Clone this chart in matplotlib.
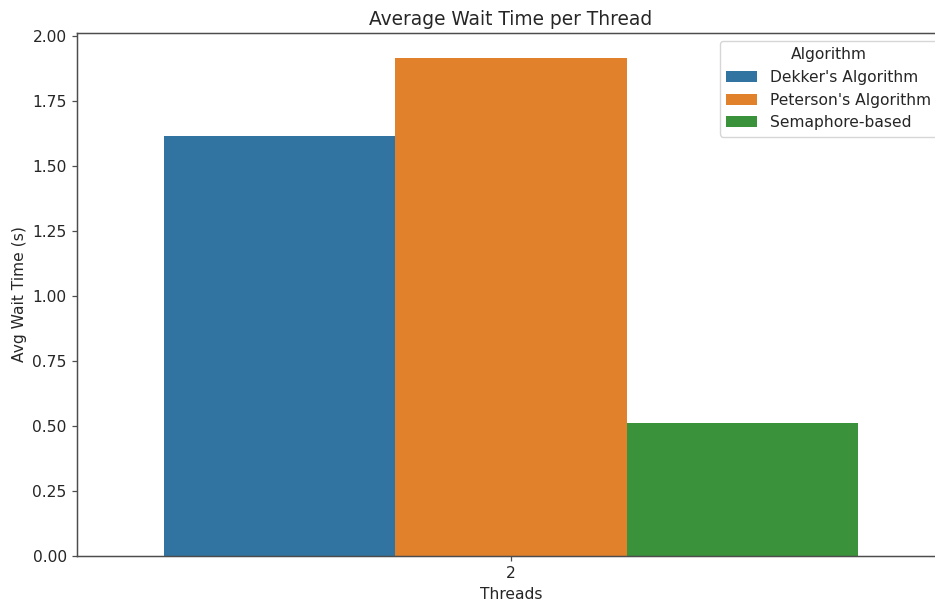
import pandas as pd
import seaborn as sns
import matplotlib
matplotlib.use("Agg")
import matplotlib.pyplot as plt

threads = [2, 2, 2]
algorithms = ["Dekker's Algorithm", "Peterson's Algorithm", "Semaphore-based"]
avg_wait = [1.615, 1.916, 0.512]

df = pd.DataFrame({"Threads": threads, "Algorithm": algorithms, "Avg Wait Time (s)": avg_wait})

s = 1.12  # original was rendered a bit larger and scaled down
plt.rcParams.update({
    "font.size": 10 * s,
    "axes.titlesize": 12 * s,
    "axes.labelsize": 10 * s,
    "xtick.labelsize": 10 * s,
    "ytick.labelsize": 10 * s,
    "legend.fontsize": 10 * s,
    "legend.title_fontsize": 10 * s,
    "axes.linewidth": 0.8 * s * 1.2,
    "xtick.major.width": 0.8 * s,
    "ytick.major.width": 0.8 * s,
    "xtick.major.size": 3.5 * s,
    "ytick.major.size": 3.5 * s,
    "axes.edgecolor": "#4d4d4d",
    "text.color": "#262626",
    "axes.labelcolor": "#262626",
    "xtick.color": "#4d4d4d",
    "ytick.color": "#4d4d4d",
    "xtick.labelcolor": "#262626",
    "ytick.labelcolor": "#262626",
})

fig = plt.figure(figsize=(9.35, 6.05), dpi=100)
# axes runs slightly past the right edge, as in the cropped original
ax = fig.add_axes([0.0824, 0.081, 0.928, 0.8645])
sns.barplot(data=df, x="Threads", y="Avg Wait Time (s)", hue="Algorithm", ax=ax)
ax.set_title("Average Wait Time per Thread")
ax.legend(title="Algorithm", loc="upper right")

fig.savefig("out.png", dpi=100)
